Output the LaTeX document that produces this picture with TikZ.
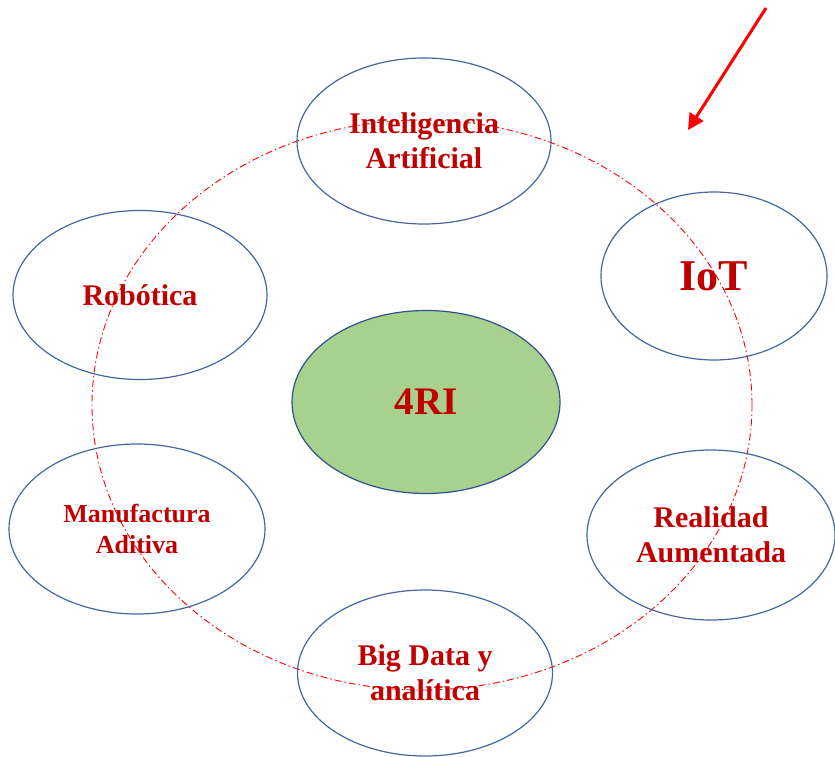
\documentclass[tikz,border=0pt]{standalone}
\usepackage{fontspec}
\setmainfont{Liberation Serif}
\usetikzlibrary{shapes.geometric,arrows.meta}
\definecolor{txtred}{RGB}{192,0,0}
\definecolor{rimblue}{RGB}{68,102,160}
\definecolor{coregreen}{RGB}{169,209,142}
\definecolor{coreblue}{RGB}{47,82,143}

\begin{document}
\begin{tikzpicture}[x=1pt,y=-1pt,
    topic/.style={ellipse,draw=rimblue,line width=1.2pt,inner sep=0pt,
      align=center,text=txtred,font=\bfseries\fontsize{30}{35}\selectfont},
    orbit/.style={draw=red,line width=0.9pt,
      dash pattern=on 7pt off 3pt on 1.5pt off 3pt}]
    \useasboundingbox (0,0) rectangle (835,757);
    % dash-dot orbit behind the topics
    \draw[orbit] (422,405) ellipse [x radius=330pt,y radius=285pt];
    % central node
    \node[topic,fill=coregreen,draw=coreblue,minimum width=268pt,minimum height=183pt,
      font=\bfseries\fontsize{39}{44}\selectfont] (core) at (426,402) {4RI};
    % topics round it
    \node[topic,minimum width=254pt,minimum height=166pt] (ia) at (424,141) {Inteligencia\\Artificial};
    \node[topic,minimum width=226pt,minimum height=168pt,
      font=\bfseries\fontsize{44}{48}\selectfont] (iot) at (714,276) {IoT};
    \node[topic,minimum width=254pt,minimum height=169pt] (robot) at (140,295) {Robótica};
    \node[topic,minimum width=256pt,minimum height=170pt,
      font=\bfseries\fontsize{26}{31}\selectfont] (manuf) at (137,529) {Manufactura\\Aditiva};
    \node[topic,minimum width=248pt,minimum height=170pt] (ra) at (711,535) {Realidad\\Aumentada};
    \node[topic,minimum width=255pt,minimum height=166pt] (bigdata) at (425,673) {Big Data y\\analítica};
    % pointer arrow
    \coordinate (tail) at (766,8);
    \coordinate (head) at (688,130);
    \draw[red,line width=3pt,-{Triangle[length=16pt,width=16pt]}] (tail) -- (head);
  \end{tikzpicture}
\end{document}
